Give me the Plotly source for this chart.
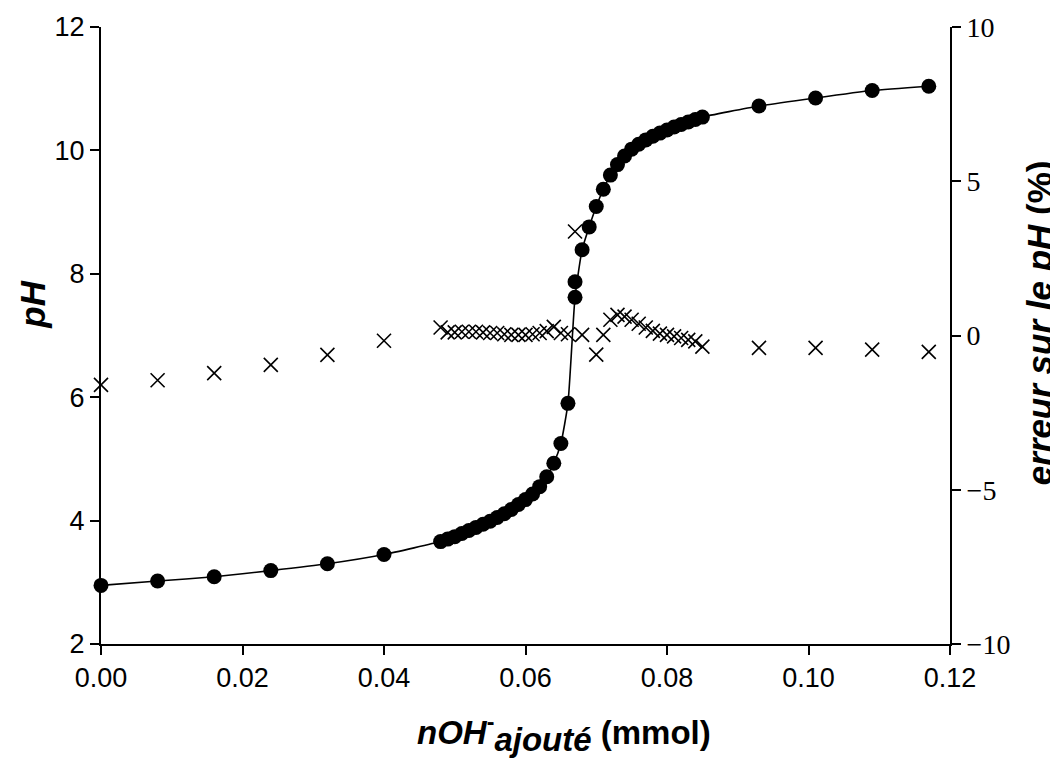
import plotly.graph_objects as go

# ---- data ----
n_oh = [0.000, 0.008, 0.016, 0.024, 0.032, 0.040,
        0.048, 0.049, 0.050, 0.051, 0.052, 0.053, 0.054, 0.055, 0.056, 0.057,
        0.058, 0.059, 0.060, 0.061, 0.062, 0.063, 0.064, 0.065, 0.066, 0.067,
        0.068, 0.069, 0.070, 0.071, 0.072, 0.073, 0.074, 0.075, 0.076, 0.077,
        0.078, 0.079, 0.080, 0.081, 0.082, 0.083, 0.084, 0.085,
        0.093, 0.101, 0.109, 0.117]

ph_exp = [2.95, 3.02, 3.09, 3.19, 3.30, 3.45,
          3.66, 3.70, 3.74, 3.79, 3.84, 3.89, 3.94, 3.99, 4.05, 4.11,
          4.18, 4.26, 4.34, 4.43, 4.55, 4.71, 4.93, 5.25, 5.90, 7.62,
          8.39, 8.76, 9.09, 9.37, 9.60, 9.77, 9.91, 10.02, 10.10, 10.17,
          10.23, 10.28, 10.33, 10.38, 10.42, 10.46, 10.50, 10.54,
          10.72, 10.85, 10.97, 11.04]

n_oh_repeat = [0.067]
ph_repeat = [7.87]

err_ph = [-1.60, -1.45, -1.22, -0.95, -0.63, -0.17,
          0.26, 0.10, 0.10, 0.12, 0.12, 0.12, 0.10, 0.08, 0.08, 0.04,
          0.02, 0.02, 0.02, 0.04, 0.08, 0.14, 0.28, 0.08, 0.04, 3.37,
          0.02, None, -0.62, 0.02, 0.51, 0.67, 0.61, 0.51, 0.38, 0.26,
          0.15, 0.06, 0.02, -0.03, -0.08, -0.14, -0.19, -0.36,
          -0.40, -0.40, -0.46, -0.53]

x_ticks = [0.00, 0.02, 0.04, 0.06, 0.08, 0.10, 0.12]
y_ticks = [2, 4, 6, 8, 10, 12]
y2_ticks = [-10, -5, 0, 5, 10]

SANS = "Liberation Sans, Arial, sans-serif"
SERIF = "Liberation Serif, Times New Roman, serif"

fig = go.Figure()

fig.add_trace(go.Scatter(
    x=n_oh, y=ph_exp, mode="lines",
    line=dict(color="black", width=1.6, shape="spline", smoothing=0.5),
    showlegend=False, cliponaxis=False))

fig.add_trace(go.Scatter(
    x=n_oh + n_oh_repeat, y=ph_exp + ph_repeat, mode="markers",
    marker=dict(symbol="circle", size=15, color="black"),
    showlegend=False, cliponaxis=False))

fig.add_trace(go.Scatter(
    x=n_oh, y=err_ph, mode="markers", yaxis="y2",
    marker=dict(symbol="x-thin", size=14, color="black",
                line=dict(color="black", width=1.6)),
    showlegend=False, cliponaxis=False))

axis_common = dict(showgrid=False, zeroline=False, showline=True,
                   linecolor="black", linewidth=2, ticks="outside",
                   ticklen=9, tickwidth=2, tickcolor="black",
                   automargin=False)

# page body has an 8px margin: figure is sized so that the plot lands
# where the reference plot area is
fig.update_layout(
    width=1050, height=750,
    margin=dict(l=93, r=108, t=19, b=114, autoexpand=False),
    paper_bgcolor="white", plot_bgcolor="white",
    xaxis=dict(range=[0, 0.12], tickvals=x_ticks, tickformat=".2f",
               tickfont=dict(family=SANS, size=27, color="black"),
               **axis_common),
    yaxis=dict(range=[2, 12], tickvals=y_ticks,
               tickfont=dict(family=SANS, size=27, color="black"),
               **axis_common),
    yaxis2=dict(range=[-10, 10], tickvals=y2_ticks, overlaying="y",
                side="right", anchor="x",
                tickfont=dict(family=SERIF, size=28, color="black"),
                **axis_common),
    annotations=[
        dict(text="<b><i>nOH</i><sup>-</sup><sub><span style='font-size:33px'><i>ajouté</i></span></sub> (mmol)</b>",
             xref="paper", yref="paper", x=0.545, y=-0.145,
             xanchor="center", yanchor="middle", showarrow=False,
             font=dict(family=SANS, size=33, color="black")),
        dict(text="<b><i>pH</i></b>", xref="paper", yref="paper",
             x=-0.08, y=0.55, xanchor="center", yanchor="middle",
             textangle=-90, showarrow=False,
             font=dict(family=SANS, size=35, color="black")),
        dict(text="<b><i>erreur sur le pH</i> (%)</b>", xref="paper", yref="paper",
             x=1.105, y=0.52, xanchor="center", yanchor="middle",
             textangle=-90, showarrow=False,
             font=dict(family=SANS, size=35, color="black")),
    ],
)

fig.write_html("out.html")
